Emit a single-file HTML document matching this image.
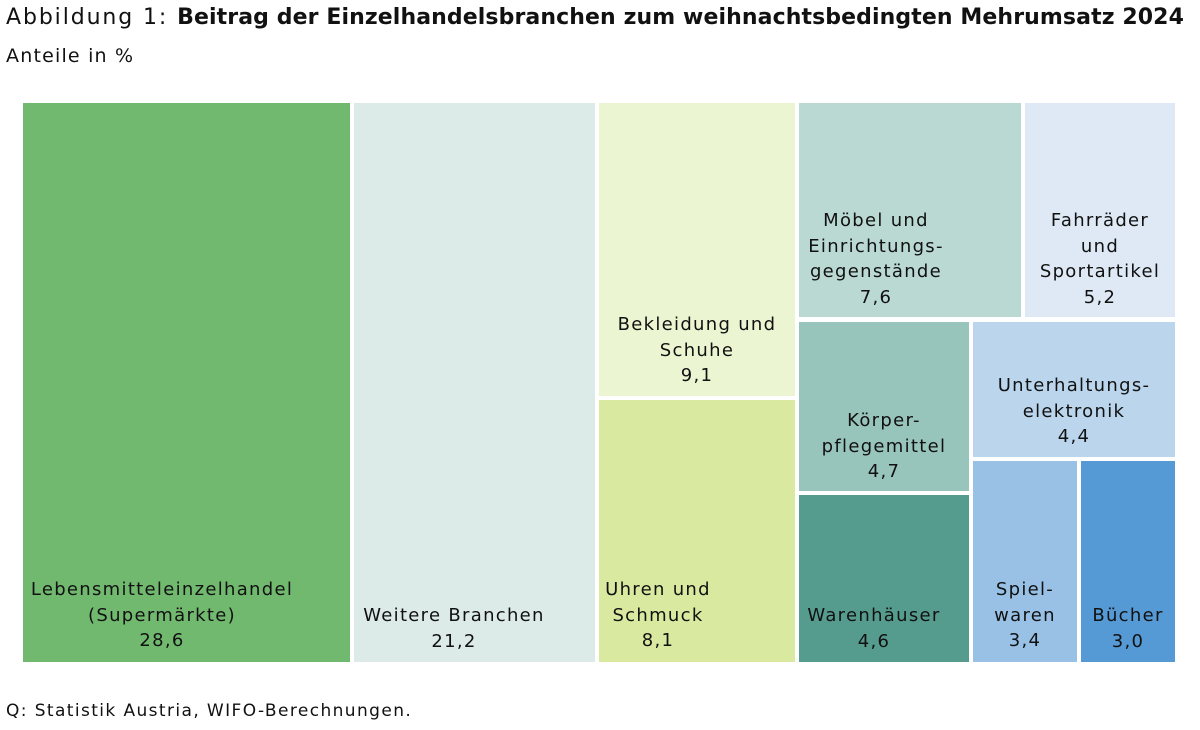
<!DOCTYPE html>
<html><head><meta charset="utf-8"><style>
body{margin:0;width:1200px;height:730px;background:#fff;font-family:"DejaVu Sans","Liberation Sans",sans-serif;color:#111;position:relative;overflow:hidden}
.r{position:absolute}
.t{position:absolute;text-align:center;font-size:18px;line-height:25.5px;letter-spacing:1.3px;white-space:nowrap}
</style></head><body>
<div class="t" style="left:6px;top:5px;font-size:22px;text-align:left;letter-spacing:1.9px">Abbildung 1: <b style="letter-spacing:0.1px">Beitrag der Einzelhandelsbranchen zum weihnachtsbedingten Mehrumsatz 2024</b></div>
<div class="t" style="left:6px;top:44px;font-size:19px;text-align:left;letter-spacing:1.2px">Anteile in %</div>

<div class="r" style="left:23px;top:103px;width:327px;height:559px;background:#72b970"></div>
<div class="r" style="left:354px;top:103px;width:241px;height:559px;background:#dcebe7"></div>
<div class="r" style="left:599px;top:103px;width:196px;height:293px;background:#ecf5d1"></div>
<div class="r" style="left:599px;top:400px;width:196px;height:262px;background:#d9e9a0"></div>
<div class="r" style="left:799px;top:103px;width:222px;height:214px;background:#bad9d3"></div>
<div class="r" style="left:1025px;top:103px;width:150px;height:214px;background:#dee9f5"></div>
<div class="r" style="left:799px;top:322px;width:170px;height:169px;background:#98c5bb"></div>
<div class="r" style="left:799px;top:495px;width:170px;height:167px;background:#569c8e"></div>
<div class="r" style="left:973px;top:322px;width:202px;height:135px;background:#bad5ec"></div>
<div class="r" style="left:973px;top:461px;width:104px;height:201px;background:#98c1e5"></div>
<div class="r" style="left:1081px;top:461px;width:94px;height:201px;background:#559ad5"></div>

<div class="t" style="left:23px;width:278px;top:577px">Lebensmitteleinzelhandel<br>(Supermärkte)<br>28,6</div>
<div class="t" style="left:354px;width:200px;top:603px">Weitere Branchen<br>21,2</div>
<div class="t" style="left:599px;width:196px;top:312px">Bekleidung und<br>Schuhe<br>9,1</div>
<div class="t" style="left:599px;width:118px;top:577px">Uhren und<br>Schmuck</div>
<div class="t" style="left:599px;width:118px;top:628px">8,1</div>
<div class="t" style="left:799px;width:154px;top:208px">Möbel und<br>Einrichtungs-<br>gegenstände<br>7,6</div>
<div class="t" style="left:1025px;width:150px;top:208px">Fahrräder<br>und<br>Sportartikel<br>5,2</div>
<div class="t" style="left:799px;width:170px;top:408px">Körper-<br>pflegemittel<br>4,7</div>
<div class="t" style="left:799px;width:150px;top:603px">Warenhäuser<br>4,6</div>
<div class="t" style="left:973px;width:202px;top:373px">Unterhaltungs-<br>elektronik<br>4,4</div>
<div class="t" style="left:973px;width:104px;top:577px">Spiel-<br>waren<br>3,4</div>
<div class="t" style="left:1081px;width:94px;top:603px">Bücher<br>3,0</div>

<div class="t" style="left:6px;top:699px;font-size:17px;text-align:left;letter-spacing:1.4px">Q: Statistik Austria, WIFO-Berechnungen.</div>
</body></html>
